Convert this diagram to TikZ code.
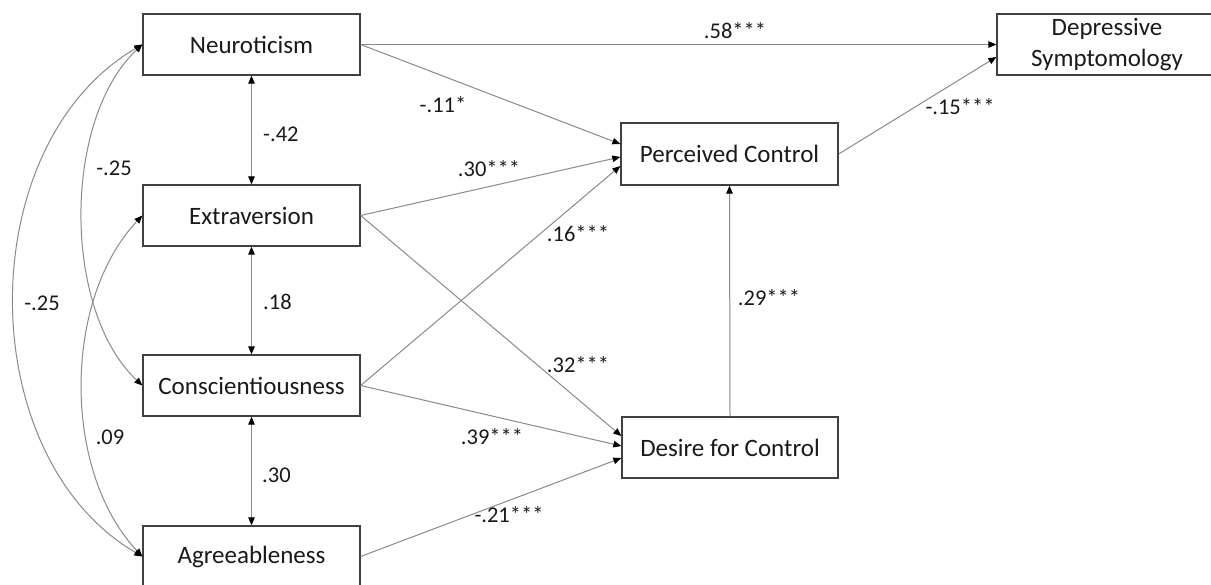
\documentclass[tikz,border=0pt]{standalone}
\usepackage{fontspec}
\setmainfont{Carlito}
\usetikzlibrary{arrows.meta}
\definecolor{linegray}{HTML}{8A8A8A}
\definecolor{boxgray}{HTML}{404040}
\definecolor{txt}{HTML}{1A1A1A}
\begin{document}
\begin{tikzpicture}[x=1pt,y=-1pt,
  box/.style={draw=boxgray,line width=1.3pt,minimum width=217pt,minimum height=61pt,inner sep=0pt,text=txt,font=\fontsize{25}{31}\selectfont,align=center},
  lbl/.style={text=txt,font=\fontsize{22.5}{27}\selectfont,inner sep=0pt},
  conn/.style={draw=linegray,line width=1pt,-{Triangle[length=8pt,width=6.5pt,color=black]}},
  dconn/.style={draw=linegray,line width=1pt,{Triangle[length=8pt,width=6.5pt,color=black]}-{Triangle[length=8pt,width=6.5pt,color=black]}}
]
\useasboundingbox (0,0) rectangle (1211,585);
\fill[white] (0,0) rectangle (1211,585);

% boxes
\node[box] (N) at (251.5,44.5) {Neuroticism};
\node[box] (E) at (251.5,215.5) {Extraversion};
\node[box] (C) at (251.5,385.5) {Conscientiousness};
\node[box] (A) at (251.5,556.5) {Agreeableness};
\node[box,minimum height=62pt] (PC) at (729.5,154) {Perceived Control};
\node[box,minimum width=216pt] (DC) at (730,447.5) {Desire for Control};
\node[box,minimum width=220pt] (D) at (1107,44.5) {Depressive\\Symptomology};

% vertical correlations
\draw[dconn] (N.south) -- (E.north);
\draw[dconn] (E.south) -- (C.north);
\draw[dconn] (C.south) -- (A.north);

% curved correlations
\draw[dconn] (N.west) .. controls +(-80,75) and +(-80,-75) .. (C.west);
\draw[dconn] (E.west) .. controls +(-80,85) and +(-80,-85) .. (A.west);
\draw[dconn] (N.west) .. controls +(-171,100) and +(-171,-100) .. (A.west);

% paths
\draw[conn] (N.east) -- (D.west);
\draw[conn] (N.east) -- ([yshift=10pt]PC.west);
\draw[conn] (E.east) -- ([yshift=-3pt]PC.west);
\draw[conn] (C.east) -- ([yshift=-12pt]PC.west);
\draw[conn] (E.east) -- ([yshift=11.5pt]DC.west);
\draw[conn] (C.east) -- ([yshift=1.5pt]DC.west);
\draw[conn] (A.east) -- ([yshift=-10.5pt]DC.west);
\draw[conn] (DC.north) -- (PC.south);
\draw[conn] (PC.east) -- ([yshift=-12.5pt]D.west);

% labels
\node[lbl] (l58) at (735,31) {.58***};
\node[lbl] (l11) at (443,105) {-.11*};
\node[lbl] (l30p) at (489,169) {.30***};
\node[lbl] (l16) at (578,234) {.16***};
\node[lbl] (l32) at (578,365) {.32***};
\node[lbl] (l39) at (492,437) {.39***};
\node[lbl] (l21) at (509,515) {-.21***};
\node[lbl] (l29) at (769,298) {.29***};
\node[lbl] (l15) at (960,107) {-.15***};
\node[lbl,anchor=west] (l42) at (263,134) {-.42};
\node[lbl,anchor=west] (l18) at (263,302) {.18};
\node[lbl,anchor=west] (l30c) at (262,475) {.30};
\node[lbl] (l25a) at (114,168) {-.25};
\node[lbl] (l25b) at (42,303) {-.25};
\node[lbl] (l09) at (110,437) {.09};
\end{tikzpicture}
\end{document}
